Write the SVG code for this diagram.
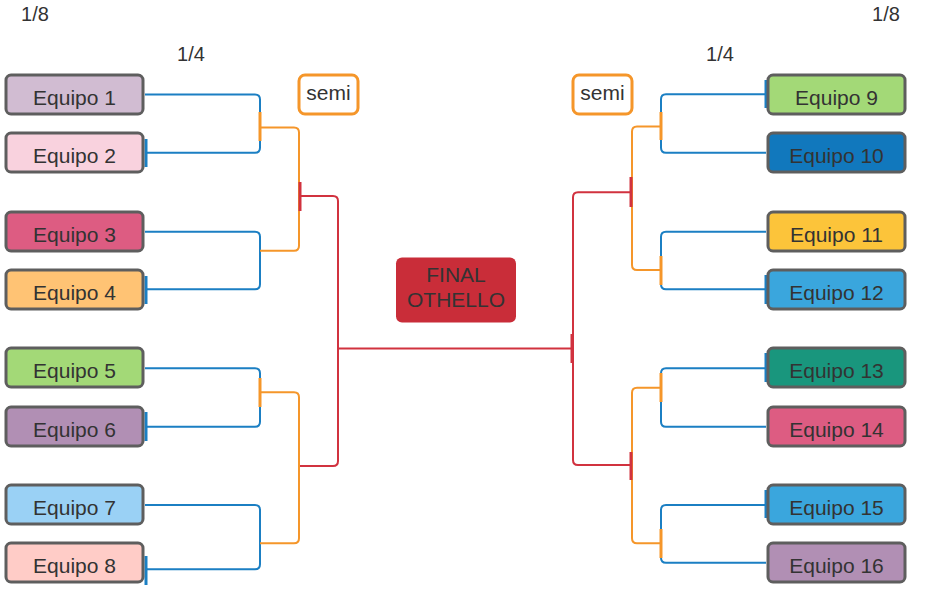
<svg xmlns="http://www.w3.org/2000/svg" width="933" height="593" viewBox="0 0 933 593">
<style>
.box{stroke:#5e5e5e;stroke-width:3}
.t{font-family:"Liberation Sans",Arial,sans-serif;font-size:21px;fill:#333;text-anchor:middle}
.lab{font-family:"Liberation Sans",Arial,sans-serif;font-size:20px;fill:#333;text-anchor:middle}
.b{fill:none;stroke:#1b7fc3;stroke-width:2}
.o{fill:none;stroke:#f5962a;stroke-width:2}
.r{fill:none;stroke:#d1323f;stroke-width:2}
.bt{stroke:#1b7fc3;stroke-width:3}
.ot{stroke:#f5962a;stroke-width:3}
.rt{stroke:#d1323f;stroke-width:3}
</style>
<rect width="933" height="593" fill="#fff"/>
<g id="labels">
<text class="lab" x="35" y="21">1/8</text>
<text class="lab" x="191" y="61">1/4</text>
<text class="lab" x="886" y="21">1/8</text>
<text class="lab" x="720" y="61">1/4</text>
</g>
<g id="connectors">
<path class="b" d="M145 94.5H255Q260 94.5 260 99.5V147.7Q260 152.7 255 152.7H145"/>
<path class="b" d="M145 231.7H255Q260 231.7 260 236.7V284.3Q260 289.3 255 289.3H145"/>
<path class="b" d="M145 368.3H255Q260 368.3 260 373.3V421.7Q260 426.7 255 426.7H145"/>
<path class="b" d="M145 505H255Q260 505 260 510V564.3Q260 569.3 255 569.3H145"/>
<line class="bt" x1="146" y1="139" x2="146" y2="167"/>
<line class="bt" x1="146" y1="276" x2="146" y2="304"/>
<line class="bt" x1="146" y1="412" x2="146" y2="441"/>
<line class="bt" x1="146" y1="556" x2="146" y2="585"/>
<path class="o" d="M260 127.5H294Q299 127.5 299 132.5V245.7Q299 250.7 294 250.7H260"/>
<path class="o" d="M260 392.3H294Q299 392.3 299 397.3V538.3Q299 543.3 294 543.3H260"/>
<line class="ot" x1="260" y1="112" x2="260" y2="141"/>
<line class="ot" x1="260" y1="378" x2="260" y2="407"/>
<path class="r" d="M300 196H333Q338 196 338 201V461Q338 466 333 466H300"/>
<line class="rt" x1="300" y1="182" x2="300" y2="211"/>
<path class="r" d="M338 348.5H572"/>
<line class="rt" x1="572" y1="334" x2="572" y2="363"/>
<path class="b" d="M766 94.3H666Q661 94.3 661 99.3V147.7Q661 152.7 666 152.7H766"/>
<path class="b" d="M766 231.7H666Q661 231.7 661 236.7V284.3Q661 289.3 666 289.3H766"/>
<path class="b" d="M766 368.3H666Q661 368.3 661 373.3V421.7Q661 426.7 666 426.7H766"/>
<path class="b" d="M766 505H666Q661 505 661 510V557.7Q661 562.7 666 562.7H766"/>
<line class="bt" x1="766" y1="80" x2="766" y2="108"/>
<line class="bt" x1="766" y1="275" x2="766" y2="304"/>
<line class="bt" x1="766" y1="353" x2="766" y2="382"/>
<line class="bt" x1="766" y1="490" x2="766" y2="518"/>
<path class="o" d="M661 126.5H637Q632 126.5 632 131.5V265Q632 270 637 270H661"/>
<path class="o" d="M661 387.7H637Q632 387.7 632 392.7V538.3Q632 543.3 637 543.3H661"/>
<line class="ot" x1="661" y1="112" x2="661" y2="140"/>
<line class="ot" x1="661" y1="256" x2="661" y2="285"/>
<line class="ot" x1="661" y1="373" x2="661" y2="402"/>
<line class="ot" x1="661" y1="529" x2="661" y2="558"/>
<path class="r" d="M631 192.3H578Q573 192.3 573 197.3V460Q573 465 578 465H631"/>
<line class="rt" x1="631" y1="177" x2="631" y2="207"/>
<line class="rt" x1="631" y1="452" x2="631" y2="480"/>
</g>
<g id="semi-left"><rect x="299" y="75" width="59" height="39" rx="6" fill="#fff" stroke="#f5962a" stroke-width="3"/><text class="t" x="328.5" y="99.5">semi</text></g>
<g id="semi-right"><rect x="573" y="75" width="59" height="39" rx="6" fill="#fff" stroke="#f5962a" stroke-width="3"/><text class="t" x="602.5" y="99.5">semi</text></g>
<g id="final"><rect x="396" y="257.5" width="120" height="65" rx="6" fill="#c92d39"/><text class="t" x="456" y="281.5">FINAL</text><text class="t" x="456" y="306.5">OTHELLO</text></g>
<g id="e1"><rect class="box" x="6" y="75" width="137" height="39" rx="5" fill="#d1bcd2"/><text class="t" x="74.5" y="104.5">Equipo 1</text></g>
<g id="e2"><rect class="box" x="6" y="133" width="137" height="39" rx="5" fill="#f9d2de"/><text class="t" x="74.5" y="162.5">Equipo 2</text></g>
<g id="e3"><rect class="box" x="6" y="212" width="137" height="39" rx="5" fill="#dd5c82"/><text class="t" x="74.5" y="241.5">Equipo 3</text></g>
<g id="e4"><rect class="box" x="6" y="270" width="137" height="39" rx="5" fill="#ffc374"/><text class="t" x="74.5" y="299.5">Equipo 4</text></g>
<g id="e5"><rect class="box" x="6" y="348" width="137" height="39" rx="5" fill="#a3d977"/><text class="t" x="74.5" y="377.5">Equipo 5</text></g>
<g id="e6"><rect class="box" x="6" y="407" width="137" height="39" rx="5" fill="#b18fb4"/><text class="t" x="74.5" y="436.5">Equipo 6</text></g>
<g id="e7"><rect class="box" x="6" y="485" width="137" height="39" rx="5" fill="#9ad1f5"/><text class="t" x="74.5" y="514.5">Equipo 7</text></g>
<g id="e8"><rect class="box" x="6" y="543" width="137" height="39" rx="5" fill="#ffccc7"/><text class="t" x="74.5" y="572.5">Equipo 8</text></g>
<g id="e9"><rect class="box" x="768" y="75" width="137" height="39" rx="5" fill="#a3d977"/><text class="t" x="836.5" y="104.5">Equipo 9</text></g>
<g id="e10"><rect class="box" x="768" y="133" width="137" height="39" rx="5" fill="#1178bd"/><text class="t" x="836.5" y="162.5">Equipo 10</text></g>
<g id="e11"><rect class="box" x="768" y="212" width="137" height="39" rx="5" fill="#fcc43a"/><text class="t" x="836.5" y="241.5">Equipo 11</text></g>
<g id="e12"><rect class="box" x="768" y="270" width="137" height="39" rx="5" fill="#3aa6dd"/><text class="t" x="836.5" y="299.5">Equipo 12</text></g>
<g id="e13"><rect class="box" x="768" y="348" width="137" height="39" rx="5" fill="#19967d"/><text class="t" x="836.5" y="377.5">Equipo 13</text></g>
<g id="e14"><rect class="box" x="768" y="407" width="137" height="39" rx="5" fill="#dd5c82"/><text class="t" x="836.5" y="436.5">Equipo 14</text></g>
<g id="e15"><rect class="box" x="768" y="485" width="137" height="39" rx="5" fill="#3aa6dd"/><text class="t" x="836.5" y="514.5">Equipo 15</text></g>
<g id="e16"><rect class="box" x="768" y="543" width="137" height="39" rx="5" fill="#b18fb4"/><text class="t" x="836.5" y="572.5">Equipo 16</text></g>
</svg>
